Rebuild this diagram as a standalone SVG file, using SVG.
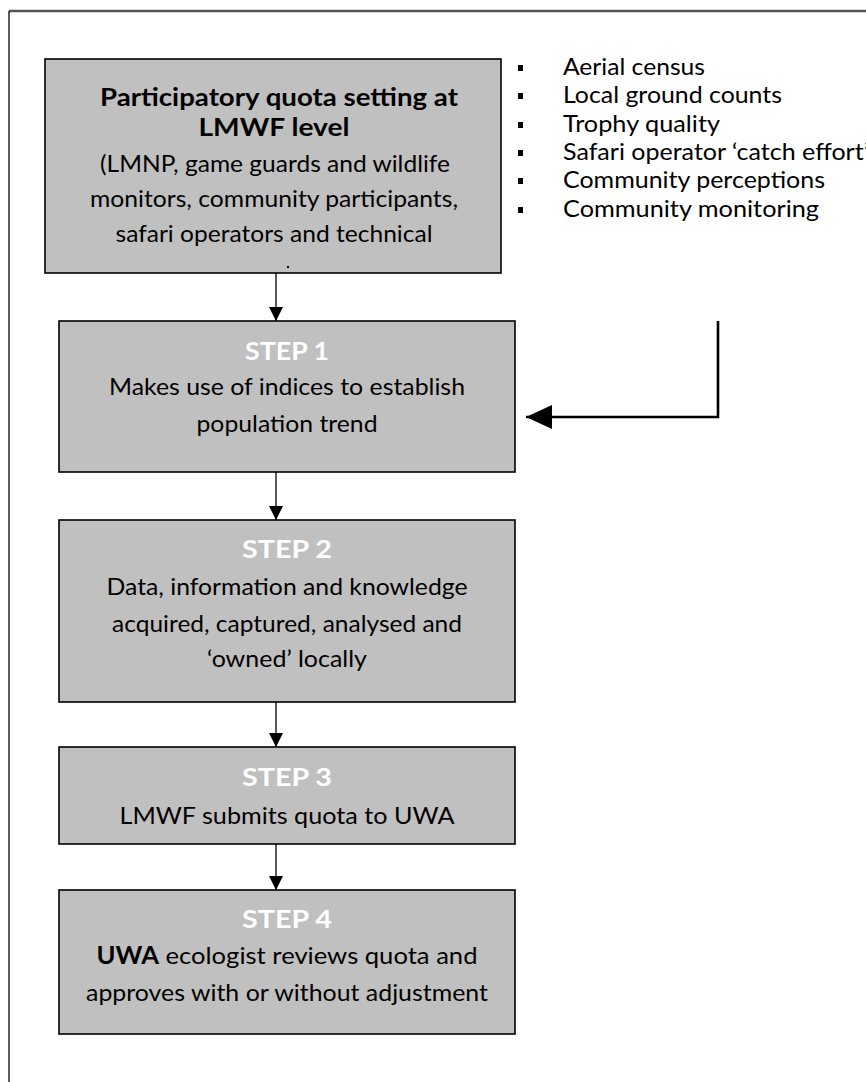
<svg xmlns="http://www.w3.org/2000/svg" width="866" height="1082" viewBox="0 0 866 1082">
<style>
.box{fill:#c0c0c0;stroke:#000;stroke-width:1.6}
.t{font-family:Lato,"Liberation Sans",sans-serif;font-size:24px;fill:#000;text-anchor:middle}
.b{font-weight:bold;font-size:24px}
.step{font-weight:bold;font-size:25px;fill:#fff}
.bl{text-anchor:start}
.ln{stroke:#000;stroke-width:1.3;fill:none}
.fb{stroke:#000;stroke-width:2.6;fill:none}
</style>
<defs>
<marker id="ah" markerUnits="userSpaceOnUse" markerWidth="14" markerHeight="15" refX="14" refY="7" orient="auto">
<path d="M0,0 L14,7 L0,14 z" fill="#000"/>
</marker>
<marker id="ahb" markerUnits="userSpaceOnUse" markerWidth="27" markerHeight="25" refX="26" refY="12" orient="auto">
<path d="M0,0 L26,12 L0,24 z" fill="#000"/>
</marker>
</defs>
<rect width="866" height="1082" fill="#fff"/>
<g id="frame">
<path d="M9,11 H866" stroke="#555" stroke-width="2.5" fill="none"/>
<path d="M9,11 V1082" stroke="#000" stroke-width="1.3" fill="none"/>
</g>
<g id="connectors">
<path class="ln" d="M276,273 V321" marker-end="url(#ah)"/>
<path class="ln" d="M276,472 V520" marker-end="url(#ah)"/>
<path class="ln" d="M276,702 V747" marker-end="url(#ah)"/>
<path class="ln" d="M276,844 V890" marker-end="url(#ah)"/>
<path class="fb" d="M718,321 V417 H526" marker-end="url(#ahb)"/>
</g>
<g id="node-quota">
<rect class="box" x="45" y="59" width="456" height="214"/>
<text class="t b" x="279" y="106" textLength="358" lengthAdjust="spacingAndGlyphs">Participatory quota setting at</text>
<text class="t b" x="274" y="136" textLength="151" lengthAdjust="spacingAndGlyphs">LMWF level</text>
<text class="t" x="275" y="172" textLength="350" lengthAdjust="spacingAndGlyphs">(LMNP, game guards and wildlife</text>
<text class="t" x="274" y="207" textLength="368" lengthAdjust="spacingAndGlyphs">monitors, community participants,</text>
<text class="t" x="274" y="242" textLength="317" lengthAdjust="spacingAndGlyphs">safari operators and technical</text>
<rect x="287" y="266" width="2" height="2" fill="#000"/>
</g>
<g id="node-indices">
<text class="t bl" x="563" y="75" textLength="142" lengthAdjust="spacingAndGlyphs">Aerial census</text>
<text class="t bl" x="563" y="103" textLength="219" lengthAdjust="spacingAndGlyphs">Local ground counts</text>
<text class="t bl" x="563" y="132" textLength="157" lengthAdjust="spacingAndGlyphs">Trophy quality</text>
<text class="t bl" x="563" y="160" textLength="306" lengthAdjust="spacingAndGlyphs">Safari operator ‘catch effort’</text>
<text class="t bl" x="563" y="188" textLength="262" lengthAdjust="spacingAndGlyphs">Community perceptions</text>
<text class="t bl" x="563" y="217" textLength="256" lengthAdjust="spacingAndGlyphs">Community monitoring</text>
<rect x="518" y="65" width="5" height="6"/>
<rect x="518" y="93" width="5" height="6"/>
<rect x="518" y="122" width="5" height="6"/>
<rect x="518" y="150" width="5" height="6"/>
<rect x="518" y="178" width="5" height="6"/>
<rect x="518" y="207" width="5" height="6"/>
</g>
<g id="node-step1">
<rect class="box" x="59" y="321" width="456" height="151"/>
<text class="t step" x="287" y="360" textLength="84" lengthAdjust="spacingAndGlyphs">STEP 1</text>
<text class="t" x="287" y="395" textLength="356" lengthAdjust="spacingAndGlyphs">Makes use of indices to establish</text>
<text class="t" x="287" y="432" textLength="181" lengthAdjust="spacingAndGlyphs">population trend</text>
</g>
<g id="node-step2">
<rect class="box" x="59" y="520" width="456" height="182"/>
<text class="t step" x="287" y="558" textLength="90" lengthAdjust="spacingAndGlyphs">STEP 2</text>
<text class="t" x="287" y="595" textLength="361" lengthAdjust="spacingAndGlyphs">Data, information and knowledge</text>
<text class="t" x="287" y="632" textLength="350" lengthAdjust="spacingAndGlyphs">acquired, captured, analysed and</text>
<text class="t" x="287" y="667" textLength="160" lengthAdjust="spacingAndGlyphs">‘owned’ locally</text>
</g>
<g id="node-step3">
<rect class="box" x="59" y="747" width="456" height="97"/>
<text class="t step" x="287" y="786" textLength="90" lengthAdjust="spacingAndGlyphs">STEP 3</text>
<text class="t" x="287" y="824" textLength="335" lengthAdjust="spacingAndGlyphs">LMWF submits quota to UWA</text>
</g>
<g id="node-step4">
<rect class="box" x="59" y="890" width="456" height="144"/>
<text class="t step" x="287" y="928" textLength="90" lengthAdjust="spacingAndGlyphs">STEP 4</text>
<text class="t" x="287" y="964" textLength="381" lengthAdjust="spacingAndGlyphs"><tspan class="b">UWA</tspan> ecologist reviews quota and</text>
<text class="t" x="287" y="1001" textLength="402" lengthAdjust="spacingAndGlyphs">approves with or without adjustment</text>
</g>
</svg>
